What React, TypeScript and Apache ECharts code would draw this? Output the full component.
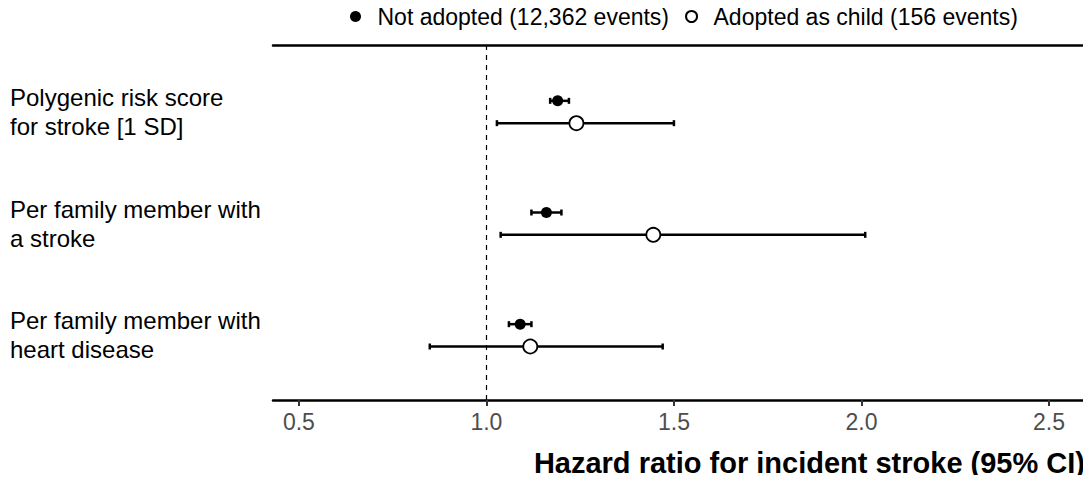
import React, { useEffect, useRef } from "react";
import * as echarts from "echarts";

const categories = [
  "Polygenic risk score\nfor stroke [1 SD]",
  "Per family member with\na stroke",
  "Per family member with\nheart disease",
];
const rowPositions = [1, 2, 3];
const dodge = 0.1;

const notAdoptedName = "Not adopted (12,362 events)";
const notAdoptedHR = [1.19, 1.16, 1.09];
const notAdoptedLo = [1.17, 1.12, 1.06];
const notAdoptedHi = [1.22, 1.2, 1.12];

const adoptedName = "Adopted as child (156 events)";
const adoptedHR = [1.24, 1.445, 1.117];
const adoptedLo = [1.028, 1.038, 0.849];
const adoptedHi = [1.5, 2.01, 1.47];

const xTicks = [0.5, 1.0, 1.5, 2.0, 2.5];
const xTitle = "Hazard ratio for incident stroke (95% CI)";

const FONT = "'Liberation Sans', Arial, Helvetica, sans-serif";

export default function App() {
  const ref = useRef<HTMLDivElement>(null);
  useEffect(() => {
    if (!ref.current) return;
    const chart = echarts.init(ref.current, null, { renderer: "svg" });

    const naY = rowPositions.map((p) => p - dodge);
    const adY = rowPositions.map((p) => p + dodge);

    const errData = [
      ...naY.map((y, i) => [y, notAdoptedLo[i], notAdoptedHi[i]]),
      ...adY.map((y, i) => [y, adoptedLo[i], adoptedHi[i]]),
    ];

    const option: any = {
      animation: false,
      backgroundColor: "#fff",
      textStyle: { fontFamily: FONT },
      grid: { left: 273, right: 6, top: 45, bottom: 83, containLabel: false },
      legend: {
        left: 350,
        top: 5,
        padding: 0,
        itemWidth: 34,
        itemHeight: 11,
        itemGap: 16,
        selectedMode: false,
        textStyle: { fontSize: 23, color: "#000", fontFamily: FONT },
        data: [
          { name: notAdoptedName, icon: "circle" },
          { name: adoptedName, icon: "circle" },
        ],
      },
      title: {
        text: xTitle,
        right: 6,
        top: 448,
        padding: 0,
        textStyle: { fontSize: 29, fontWeight: "bold", color: "#000", fontFamily: FONT },
      },
      xAxis: [
        {
          type: "value",
          min: 0.431,
          max: 2.596,
          position: "bottom",
          splitLine: { show: false },
          axisLine: { show: true, lineStyle: { color: "#000", width: 2.5 } },
          axisTick: {
            show: true,
            customValues: xTicks,
            length: 6,
            lineStyle: { color: "#333", width: 2 },
          },
          axisLabel: {
            customValues: xTicks,
            formatter: (v: number) => v.toFixed(1),
            fontSize: 23,
            color: "#4d4d4d",
            margin: 10,
            fontFamily: FONT,
          },
        },
        {
          type: "value",
          min: 0.431,
          max: 2.596,
          position: "top",
          splitLine: { show: false },
          axisLine: { show: true, onZero: false, lineStyle: { color: "#000", width: 2.5 } },
          axisTick: { show: false },
          axisLabel: { show: false },
        },
      ],
      yAxis: {
        type: "value",
        inverse: true,
        min: 0.4,
        max: 3.579,
        splitLine: { show: false },
        axisLine: { show: false },
        axisTick: { show: false },
        axisLabel: {
          customValues: rowPositions,
          formatter: (v: number) => categories[rowPositions.indexOf(v)] ?? "",
          align: "left",
          margin: 263,
          fontSize: 24,
          lineHeight: 29,
          color: "#000",
          fontFamily: FONT,
        },
      },
      series: [
        {
          type: "custom",
          name: "ci",
          data: errData,
          encode: { x: [1, 2], y: 0 },
          z: 2,
          renderItem: (params: any, api: any) => {
            const y = api.value(0);
            const lo = api.value(1);
            const hi = api.value(2);
            const p1 = api.coord([lo, y]);
            const p2 = api.coord([hi, y]);
            const cap = 3;
            const st = { stroke: "#000", lineWidth: 2.5 };
            return {
              type: "group",
              children: [
                { type: "line", shape: { x1: p1[0], y1: p1[1], x2: p2[0], y2: p2[1] }, style: st },
                { type: "line", shape: { x1: p1[0], y1: p1[1] - cap, x2: p1[0], y2: p1[1] + cap }, style: st },
                { type: "line", shape: { x1: p2[0], y1: p2[1] - cap, x2: p2[0], y2: p2[1] + cap }, style: st },
              ],
            };
          },
          markLine: {
            silent: true,
            symbol: "none",
            label: { show: false },
            lineStyle: { color: "#000", type: [5, 5], width: 1.2 },
            data: [{ xAxis: 1 }],
          },
        },
        {
          type: "scatter",
          name: notAdoptedName,
          data: notAdoptedHR.map((v, i) => [v, naY[i]]),
          symbol: "circle",
          symbolSize: 11,
          itemStyle: { color: "#000", borderColor: "#000", borderWidth: 0, opacity: 1 },
          z: 3,
        },
        {
          type: "scatter",
          name: adoptedName,
          data: adoptedHR.map((v, i) => [v, adY[i]]),
          symbol: "circle",
          symbolSize: 14,
          itemStyle: { color: "#fff", borderColor: "#000", borderWidth: 1.8, opacity: 1 },
          z: 3,
        },
      ],
    };
    chart.setOption(option);
    return () => chart.dispose();
  }, []);
  return <div ref={ref} style={{ width: 1091, height: 483, margin: -8 }} />;
}
